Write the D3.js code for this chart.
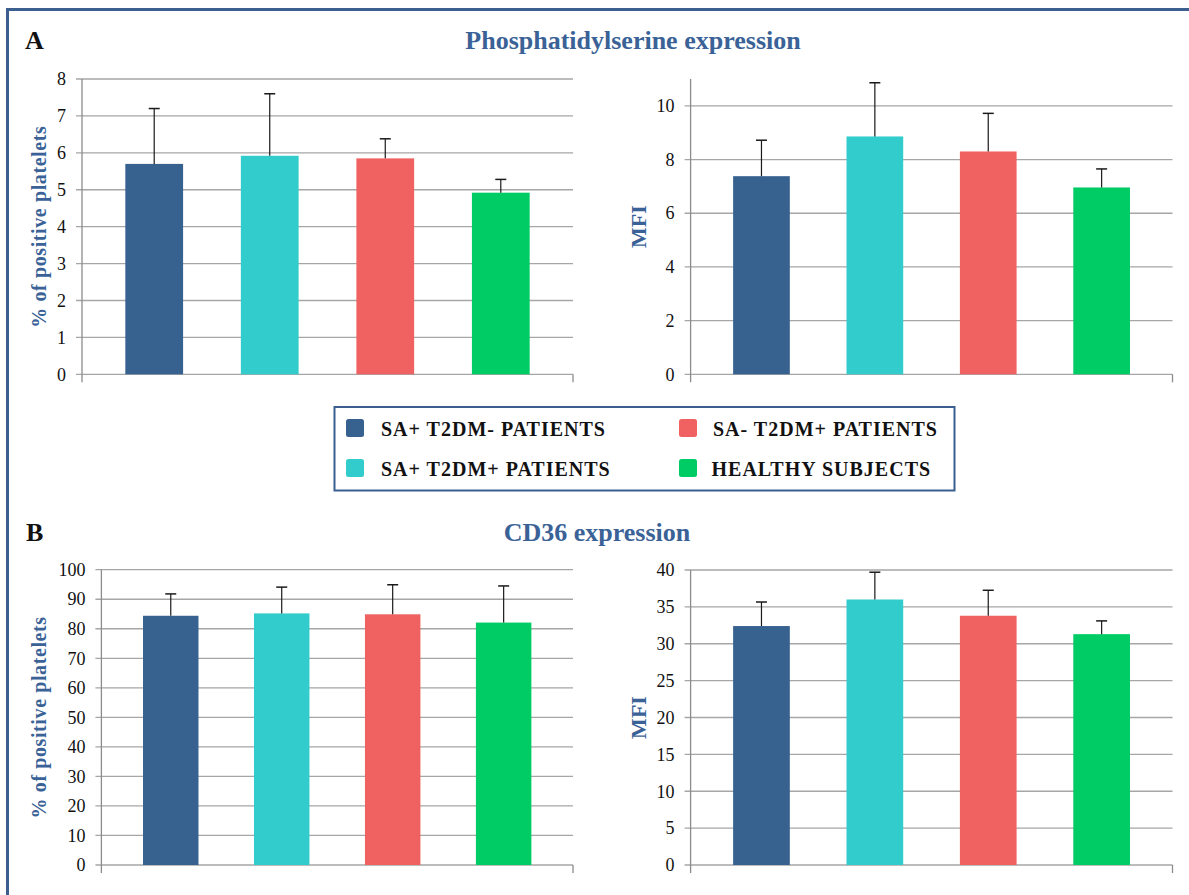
<!DOCTYPE html>
<html>
<head>
<meta charset="utf-8">
<script src="https://cdn.jsdelivr.net/npm/d3@7"></script>
<style>
  html, body { margin: 0; padding: 0; background: #fff; }
  svg { display: block; }
  svg text { font-family: "Liberation Serif", "Times New Roman", serif; }
</style>
</head>
<body>
<svg id="fig" width="1189" height="895"></svg>
<script>
// Groups and colours
const groups = ["SA+ T2DM- PATIENTS", "SA+ T2DM+ PATIENTS", "SA- T2DM+ PATIENTS", "HEALTHY SUBJECTS"];
const groupColors = ["#37618F", "#33CCCC", "#F06262", "#00CC66"];

// Phosphatidylserine: % positive platelets (mean, SD)
const psPct = [5.70, 5.92, 5.85, 4.92];
const psPctErr = [1.50, 1.68, 0.53, 0.36];
// Phosphatidylserine: MFI
const psMfi = [7.38, 8.86, 8.30, 6.96];
const psMfiErr = [1.34, 2.00, 1.42, 0.69];
// CD36: % positive platelets
const cdPct = [84.4, 85.2, 84.9, 82.1];
const cdPctErr = [7.4, 8.9, 10.0, 12.4];
// CD36: MFI
const cdMfi = [32.4, 36.0, 33.8, 31.3];
const cdMfiErr = [3.26, 3.70, 3.45, 1.80];

// Axis ticks
const ticksPsPct = [0, 1, 2, 3, 4, 5, 6, 7, 8];
const ticksPsMfi = [0, 2, 4, 6, 8, 10];
const ticksCdPct = [0, 10, 20, 30, 40, 50, 60, 70, 80, 90, 100];
const ticksCdMfi = [0, 5, 10, 15, 20, 25, 30, 35, 40];

const labelBlue = "#3A6297";
const serif = "'Liberation Serif', 'Times New Roman', serif";
const svg = d3.select("#fig");

// Frame around the figure
svg.append("path")
  .attr("d", "M7.5,900 L7.5,9.5 L1195,9.5")
  .attr("fill", "none").attr("stroke", "#3B5F8F").attr("stroke-width", 3);

// Panel letters and titles
function heading(x, y, str, color, anchor) {
  svg.append("text").attr("x", x).attr("y", y).attr("text-anchor", anchor).text(str)
    .style("font-family", serif).style("font-size", "26px").style("font-weight", "bold")
    .style("fill", color);
}
heading(25, 49, "A", "#111", "start");
heading(26, 541, "B", "#111", "start");
heading(633, 49, "Phosphatidylserine expression", labelBlue, "middle");
heading(597, 541, "CD36 expression", labelBlue, "middle");

function panel(cfg) {
  const { x0, x1, yTop, yBase, max, ticks, values, errs, label, labelX, labelSize, labelSpacing } = cfg;
  const g = svg.append("g");
  const x = d3.scaleBand().domain(groups).range([x0, x1]).paddingInner(0.5).paddingOuter(0.375);
  const y = d3.scaleLinear().domain([0, max]).range([yBase, yTop]);

  // Gridlines
  g.selectAll("line.grid").data(ticks).join("line")
    .attr("x1", x0 - 6).attr("x2", x1)
    .attr("y1", d => y(d)).attr("y2", d => y(d))
    .attr("stroke", "#A6A6A6").attr("stroke-width", 1.3);

  // Left axis labels
  const ax = d3.axisLeft(y).tickValues(ticks).tickSize(0).tickPadding(16).tickFormat(d3.format("d"));
  const axG = g.append("g").attr("transform", `translate(${x0},0)`).call(ax);
  axG.attr("font-family", null).attr("font-size", null);
  axG.select(".domain").remove();
  axG.selectAll("text")
    .style("font-family", serif).style("font-size", "18px").style("fill", "#111");

  // Axis lines
  g.append("line").attr("x1", x0).attr("x2", x0).attr("y1", yTop).attr("y2", yBase + 8)
    .attr("stroke", "#8C8C8C").attr("stroke-width", 1.3);
  g.append("line").attr("x1", x1).attr("x2", x1).attr("y1", yBase).attr("y2", yBase + 8)
    .attr("stroke", "#8C8C8C").attr("stroke-width", 1.3);

  // Bars
  g.selectAll("rect.bar").data(groups).join("rect")
    .attr("x", d => x(d)).attr("width", x.bandwidth())
    .attr("y", (d, i) => y(values[i])).attr("height", (d, i) => yBase - y(values[i]))
    .attr("fill", (d, i) => groupColors[i]);

  // Upper error bars
  const eb = g.selectAll("g.err").data(groups).join("g");
  eb.append("line")
    .attr("x1", d => x(d) + x.bandwidth() / 2).attr("x2", d => x(d) + x.bandwidth() / 2)
    .attr("y1", (d, i) => y(values[i])).attr("y2", (d, i) => y(values[i] + errs[i]))
    .attr("stroke", "#1A1A1A").attr("stroke-width", 1.2);
  eb.append("line")
    .attr("x1", d => x(d) + x.bandwidth() / 2 - 5.5).attr("x2", d => x(d) + x.bandwidth() / 2 + 5.5)
    .attr("y1", (d, i) => y(values[i] + errs[i])).attr("y2", (d, i) => y(values[i] + errs[i]))
    .attr("stroke", "#1A1A1A").attr("stroke-width", 1.5);

  // Y label
  g.append("text")
    .attr("transform", `translate(${labelX},${(yTop + yBase) / 2}) rotate(-90)`)
    .attr("text-anchor", "middle")
    .style("font-family", serif).style("font-size", labelSize + "px").style("font-weight", "bold")
    .style("letter-spacing", labelSpacing + "px")
    .style("fill", labelBlue)
    .text(label);
}

panel({ x0: 82, x1: 573, yTop: 79, yBase: 374.3, max: 8, ticks: ticksPsPct,
  values: psPct, errs: psPctErr, label: "% of positive platelets", labelX: 45.5, labelSize: 20, labelSpacing: 0.6 });
panel({ x0: 690.6, x1: 1172.5, yTop: 79, yBase: 374.3, max: 11, ticks: ticksPsMfi,
  values: psMfi, errs: psMfiErr, label: "MFI", labelX: 645.5, labelSize: 22, labelSpacing: 0 });
panel({ x0: 101.4, x1: 573, yTop: 569.7, yBase: 865, max: 100, ticks: ticksCdPct,
  values: cdPct, errs: cdPctErr, label: "% of positive platelets", labelX: 45.5, labelSize: 20, labelSpacing: 0.6 });
panel({ x0: 690.6, x1: 1172.5, yTop: 570, yBase: 865, max: 40, ticks: ticksCdMfi,
  values: cdMfi, errs: cdMfiErr, label: "MFI", labelX: 645.5, labelSize: 22, labelSpacing: 0 });

// Legend
const legend = svg.append("g");
legend.append("rect").attr("x", 334.5).attr("y", 407).attr("width", 620).attr("height", 83.5)
  .attr("fill", "#fff").attr("stroke", "#3B5F8F").attr("stroke-width", 2);
const legendOrder = [0, 1, 2, 3];
const legendPos = [[346, 419], [346, 459], [679, 419], [679, 459]];
const legendTextX = [381, 381, 713, 711.5];
const li = legend.selectAll("g.item").data(legendOrder).join("g");
li.append("rect")
  .attr("x", (d, i) => legendPos[i][0]).attr("y", (d, i) => legendPos[i][1])
  .attr("width", 18).attr("height", 18).attr("rx", 2.5)
  .attr("fill", d => groupColors[d]);
li.append("text")
  .attr("x", (d, i) => legendTextX[i]).attr("y", (d, i) => legendPos[i][1] + 17)
  .style("font-family", serif).style("font-size", "20px").style("font-weight", "bold")
  .style("letter-spacing", "1px").style("fill", "#111")
  .text(d => groups[d]);
</script>
</body>
</html>
